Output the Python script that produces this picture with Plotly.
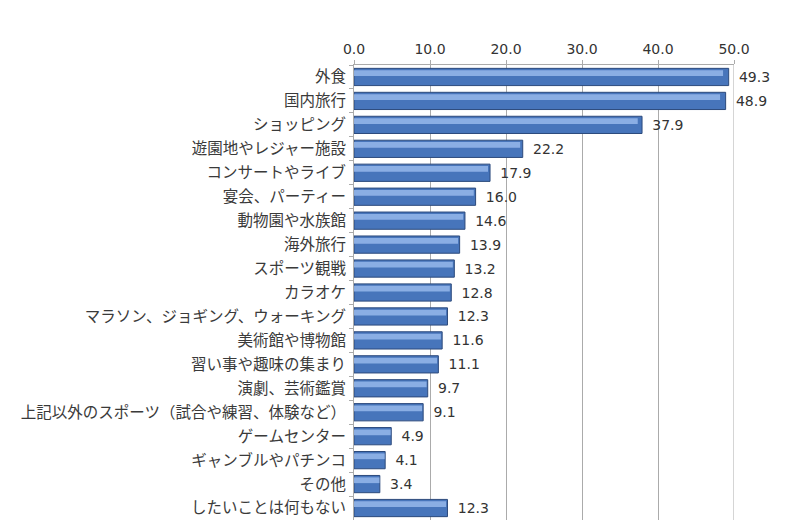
import plotly.graph_objects as go

categories = ["外食", "国内旅行", "ショッピング", "遊園地やレジャー施設", "コンサートやライブ",
              "宴会、パーティー", "動物園や水族館", "海外旅行", "スポーツ観戦", "カラオケ",
              "マラソン、ジョギング、ウォーキング", "美術館や博物館", "習い事や趣味の集まり",
              "演劇、芸術鑑賞", "上記以外のスポーツ（試合や練習、体験など）", "ゲームセンター",
              "ギャンブルやパチンコ", "その他", "したいことは何もない"]
values = [49.3, 48.9, 37.9, 22.2, 17.9, 16.0, 14.6, 13.9, 13.2, 12.8,
          12.3, 11.6, 11.1, 9.7, 9.1, 4.9, 4.1, 3.4, 12.3]
tick_vals = [0, 10, 20, 30, 40, 50]
tick_text = ["0.0", "10.0", "20.0", "30.0", "40.0", "50.0"]

fig = go.Figure()
fig.add_trace(go.Bar(
    y=categories, x=values, orientation="h", width=0.72,
    marker=dict(color="#4775bb", line=dict(color="#2c4a7c", width=1)),
    text=[f" \u2009{v:.1f}" for v in values], textposition="outside",
    textfont=dict(family="DejaVu Sans", size=14, color="#333333"),
    cliponaxis=False, hoverinfo="skip", showlegend=False,
))
fig.add_trace(go.Bar(
    y=categories, x=[v * 0.985 for v in values], orientation="h", width=0.24, offset=-0.28,
    marker=dict(color="rgba(150,185,235,0.85)", line=dict(width=0)),
    hoverinfo="skip", showlegend=False,
))

fig.update_layout(
    width=800, height=531, barmode="overlay",
    margin=dict(l=346, r=74, t=57, b=19),
    paper_bgcolor="white", plot_bgcolor="white",
    font=dict(family="Noto Sans CJK JP", size=15.5, color="#3a3a3a"),
    xaxis=dict(side="top", range=[0, 50], tickvals=tick_vals, ticktext=tick_text,
               showgrid=True, gridcolor="#ababab", gridwidth=1,
               ticks="outside", ticklen=4, tickcolor="#ababab",
               showline=True, linecolor="#ababab", mirror=False,
               tickfont=dict(family="DejaVu Sans", size=14, color="#333333"),
               zeroline=False, fixedrange=True, automargin=False),
    yaxis=dict(autorange="reversed", showline=True, linecolor="#ababab",
               ticks="outside", ticklen=4, tickcolor="#ababab", tickson="boundaries",
               ticklabelstandoff=4, automargin=False,
               tickfont=dict(family="Noto Sans CJK JP", size=15.5, color="#3a3a3a"),
               showgrid=False, fixedrange=True),
    bargap=0.28,
)
fig.add_shape(type="line", xref="x", yref="paper", x0=50, x1=50, y0=0, y1=1,
              line=dict(color="#ababab", width=1))

fig.write_html("out.html")
